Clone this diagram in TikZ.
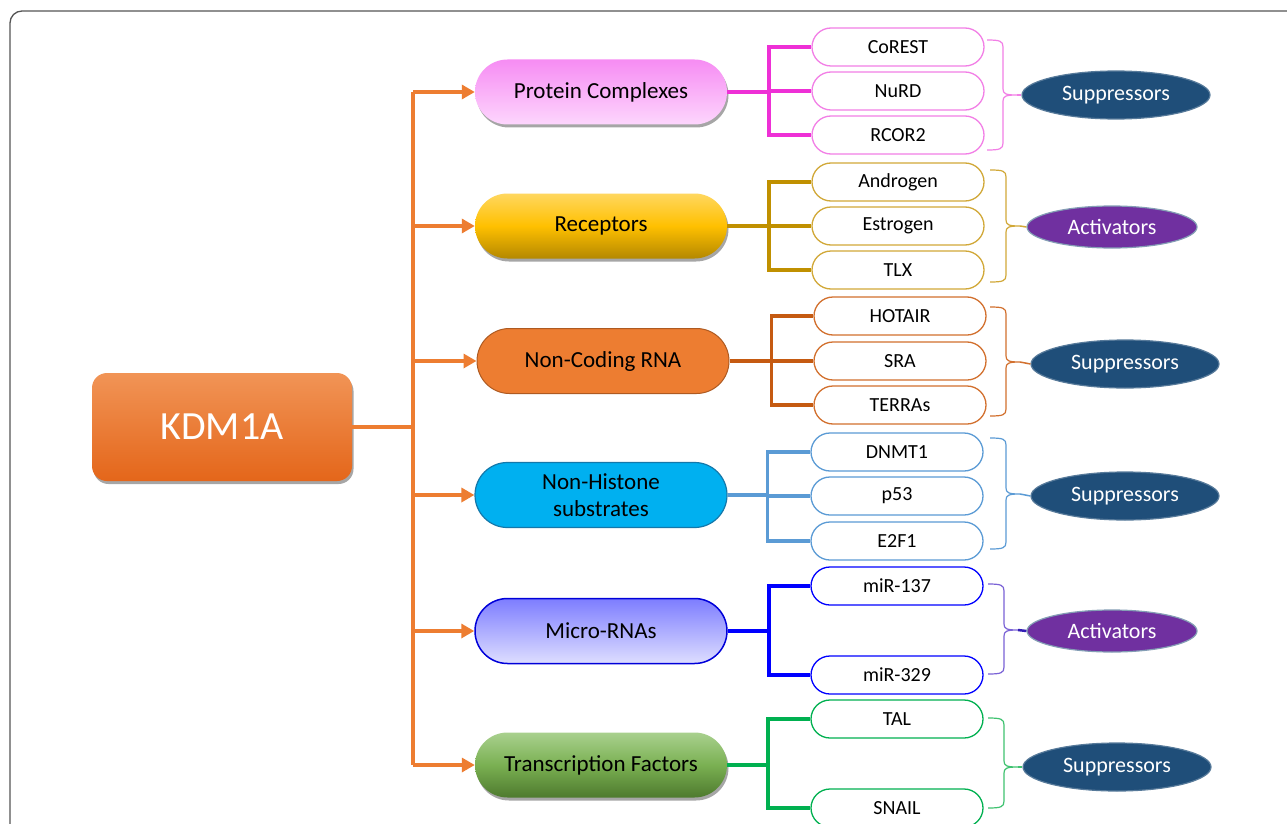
\documentclass[tikz,border=0pt]{standalone}
\usepackage{fontspec}
\setmainfont{Carlito}
\usetikzlibrary{shapes.geometric,shadows,arrows.meta,calc}
\definecolor{org}{HTML}{ED7D31}
\definecolor{pinkL}{HTML}{EE30D6}
\definecolor{pinkB}{HTML}{F27FE6}
\definecolor{goldL}{HTML}{C09000}
\definecolor{goldB}{HTML}{D1A838}
\definecolor{brnL}{HTML}{C55A11}
\definecolor{brnB}{HTML}{D2702E}
\definecolor{lbL}{HTML}{5B9BD5}
\definecolor{bluL}{HTML}{0000FF}
\definecolor{bluB}{HTML}{7A62D6}
\definecolor{bluS}{HTML}{321EB4}
\definecolor{grnL}{HTML}{00B050}
\definecolor{grnB}{HTML}{3FC270}
\definecolor{supp}{HTML}{1F4E79}
\definecolor{actv}{HTML}{7030A0}
\definecolor{frame}{HTML}{555555}
\definecolor{kdmT}{HTML}{F19456}
\definecolor{kdmB}{HTML}{E4661A}
\definecolor{pcT}{HTML}{F68CF3}
\definecolor{pcB}{HTML}{FDD6FD}
\definecolor{rcT}{HTML}{FFD75F}
\definecolor{rcM}{HTML}{FFC000}
\definecolor{rcB}{HTML}{B48800}
\definecolor{ncD}{HTML}{AE5A21}
\definecolor{nhF}{HTML}{00B0F0}
\definecolor{nhD}{HTML}{1478AA}
\definecolor{mrT}{HTML}{7D7DFF}
\definecolor{mrB}{HTML}{DEDEFF}
\definecolor{tfT}{HTML}{A9D18E}
\definecolor{tfM}{HTML}{7AB052}
\definecolor{tfB}{HTML}{4E7A2E}
\tikzset{
  x=1pt,y=-1pt,
  catbox/.style={rectangle, rounded corners=32.5, minimum width=252, minimum height=65, inner sep=0, align=center, font=\fontsize{23}{27}\selectfont, text=black},
  shd/.style={drop shadow={shadow xshift=1.5pt, shadow yshift=-3pt, opacity=0.35, fill=black}},
  child/.style={rectangle, rounded corners=19, minimum width=172, minimum height=38, inner sep=0, fill=white, line width=1.3, font=\fontsize{20}{22}\selectfont},
  ell/.style={ellipse, inner sep=0, line width=1.2, text=white, font=\fontsize{22}{24}\selectfont},
  suppr/.style={ell, fill=supp, draw=supp!75!white, minimum width=188, minimum height=48},
  activ/.style={ell, fill=actv, draw=supp!55!white, minimum width=170, minimum height=42},
  trunk/.style={org, line width=4},
  arr/.style={trunk, -{Triangle[length=13,width=14]}},
  grp/.style={line width=3.5},
}
\newcommand\grpbrace[6]{%
  \draw[#1, line width=1.2] (#2,#3) .. controls (#2+13,#3) and (#2+16,#3+1) .. (#2+16,#3+7)
    -- (#2+16,#4-6) .. controls (#2+16,#4-1) and (#2+19,#4) .. (#2+30,#4)
    .. controls (#2+19,#4) and (#2+16,#4+1) .. (#2+16,#4+6)
    -- (#2+16,#5-7) .. controls (#2+16,#5-1) and (#2+13,#5) .. (#2,#5);
  \coordinate (#6) at (#2+30,#4);}
\begin{document}
\begin{tikzpicture}
\useasboundingbox (0,0) rectangle (1287,824);
\clip (0,0) rectangle (1287,824);
\fill[white] (0,0) rectangle (1287,824);
\draw[line width=1.3, frame, rounded corners=12] (10,11) rectangle (1320,860);

% main node
\node[rectangle, rounded corners=15, minimum width=260, minimum height=108, inner sep=0,
  top color=kdmT, bottom color=kdmB, shd, text=white, font=\fontsize{40}{44}\selectfont] (kdm) at (222,427) {KDM1A};

% categories
\node[catbox, shd, top color=pcT, bottom color=pcB] (pc) at (601,92) {Protein Complexes};
\node[catbox, shd, top color=rcT, bottom color=rcB, middle color=rcM] (rc) at (601,226) {Receptors};
\node[catbox, fill=org, draw=ncD, line width=1] (nc) at (603,361) {Non-Coding RNA};
\node[catbox, fill=nhF, draw=nhD, line width=1.2] (nh) at (601,495) {Non-Histone\\substrates};
\node[catbox, top color=mrT, bottom color=mrB, draw=bluL!85!black, line width=1.5] (mr) at (601,631) {Micro-RNAs};
\node[catbox, shd, top color=tfT, bottom color=tfB, middle color=tfM] (tf) at (601,765) {Transcription Factors};

% trunk
\coordinate (t) at ($(kdm.east)+(61,0)$);
\draw[trunk] (kdm.east) -- (t);
\draw[trunk] (t |- pc) -- (t |- tf);
\foreach \c in {pc,rc,nc,nh,mr,tf}{\draw[arr] (t |- \c) -- (\c.west);}

% children
\node[child, draw=pinkB] (c1) at (898,47) {CoREST};
\node[child, draw=pinkB] (c2) at (898,91) {NuRD};
\node[child, draw=pinkB] (c3) at (898,135) {RCOR2};
\node[child, draw=goldB] (r1) at (898,182) {Androgen};
\node[child, draw=goldB] (r2) at (898,226) {Estrogen};
\node[child, draw=goldB] (r3) at (898,270) {TLX};
\node[child, draw=brnB] (n1) at (900,316) {HOTAIR};
\node[child, draw=brnB] (n2) at (900,361) {SRA};
\node[child, draw=brnB] (n3) at (900,405) {TERRAs};
\node[child, draw=lbL] (h1) at (897,452) {DNMT1};
\node[child, draw=lbL] (h2) at (897,496) {p53};
\node[child, draw=lbL] (h3) at (897,541) {E2F1};
\node[child, draw=bluL] (m1) at (897,586) {miR-137};
\node[child, draw=bluL] (m2) at (897,675) {miR-329};
\node[child, draw=grnL] (f1) at (897,719) {TAL};
\node[child, draw=grnL] (f2) at (897,808) {SNAIL};

% group connectors
\foreach \k in {c1,c2,c3}{\draw[grp, pinkL] (pc.east) -- ++(42,0) |- (\k.west);}
\foreach \k in {r1,r2,r3}{\draw[grp, goldL] (rc.east) -- ++(42,0) |- (\k.west);}
\foreach \k in {n1,n2,n3}{\draw[grp, brnL] (nc.east) -- ++(42,0) |- (\k.west);}
\foreach \k in {h1,h2,h3}{\draw[grp, lbL] (nh.east) -- ++(40,0) |- (\k.west);}
\foreach \k in {m1,m2}{\draw[grp, bluL] (mr.east) -- ++(41,0) |- (\k.west);}
\foreach \k in {f1,f2}{\draw[grp, grnL] (tf.east) -- ++(41,0) |- (\k.west);}

% outcome ellipses
\node[suppr] (s1) at (1116,95) {Suppressors};
\node[activ] (a1) at (1112,227) {Activators};
\node[suppr] (s2) at (1125,364) {Suppressors};
\node[suppr] (s3) at (1125,496) {Suppressors};
\node[activ] (a2) at (1112,631) {Activators};
\node[suppr] (s4) at (1117,767) {Suppressors};

% braces
\grpbrace{pinkB}{987}{40}{95}{150}{b1}
\grpbrace{goldB}{990}{170}{226}{282}{b2}
\grpbrace{brnB}{990}{307}{362}{416}{b3}
\grpbrace{lbL}{990}{438}{494}{549}{b4}
\grpbrace{bluB}{988}{584}{630}{674}{b5}
\grpbrace{grnB}{988}{718}{767}{808}{b6}
\draw[pinkB, line width=1.5] (b1) -- (s1.west);
\draw[goldB, line width=1.5] (b2) -- (a1.west);
\draw[brnB, line width=1.5] (b3) -- (s2.west);
\draw[lbL, line width=1.5] (b4) -- (s3.west);
\draw[bluS, line width=2.5] (b5) -- (a2.west);
\draw[grnB, line width=1.5] (b6) -- (s4.west);
\end{tikzpicture}
\end{document}
